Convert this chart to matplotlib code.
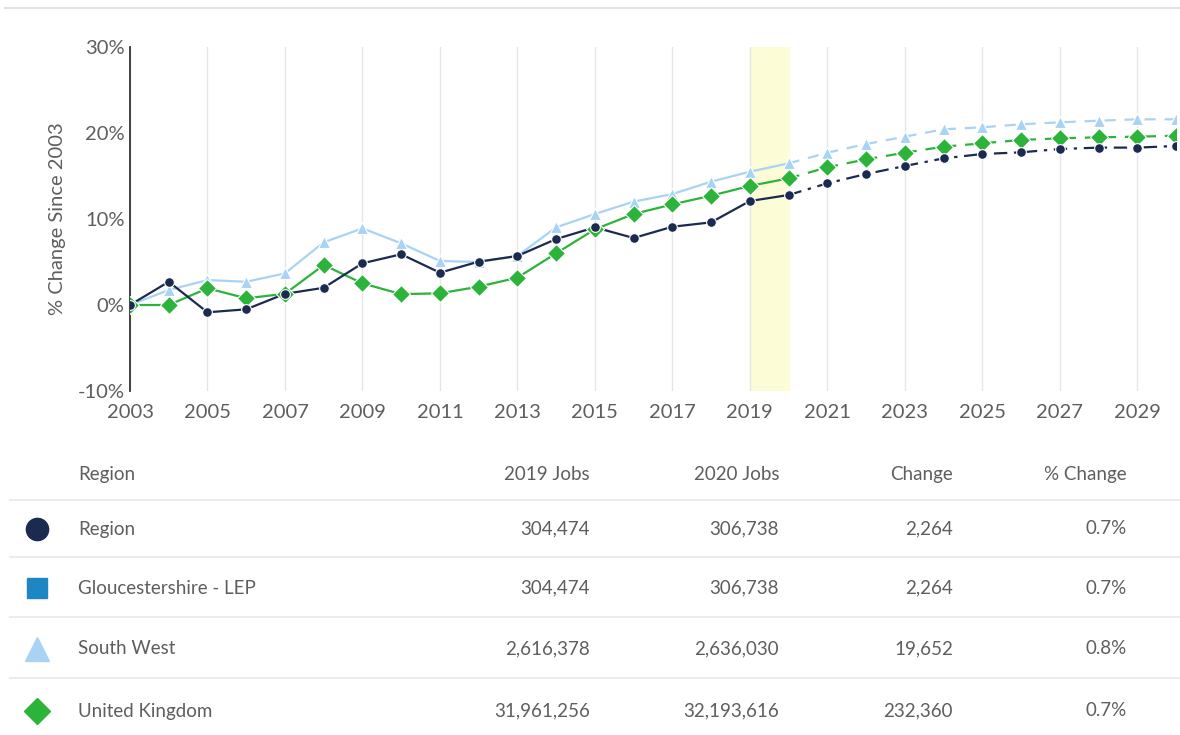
import numpy as np
import matplotlib.pyplot as plt

plt.rcParams['font.family'] = ['Lato', 'DejaVu Sans']

years = np.arange(2003, 2031)
region = [0, 2.7, -0.85, -0.5, 1.3, 2.0, 4.85, 5.9, 3.76, 5.04, 5.7, 7.67, 9.03, 7.79,
          9.1, 9.61, 12.09, 12.79, 14.15, 15.23, 16.16, 17.05, 17.56, 17.75, 18.14, 18.3,
          18.3, 18.49]
south_west = [0, 1.74, 2.9, 2.7, 3.68, 7.29, 8.91, 7.17, 5.12, 5.0, 5.7, 9.03, 10.58, 12.02,
              12.9, 14.34, 15.5, 16.47, 17.71, 18.72, 19.57, 20.43, 20.66, 21.01, 21.24,
              21.43, 21.59, 21.59]
uk = [0, 0.0, 1.94, 0.78, 1.3, 4.65, 2.52, 1.26, 1.36, 2.13, 3.18, 6.01, 8.8, 10.58, 11.7,
      12.71, 13.84, 14.73, 16.01, 16.94, 17.71, 18.41, 18.8, 19.19, 19.38, 19.5, 19.57, 19.69]
last_actual = 2020
highlight = (2019, 2020)

table_cols = ['Region', '2019 Jobs', '2020 Jobs', 'Change', '% Change']
table_names = ['Region', 'Gloucestershire - LEP', 'South West', 'United Kingdom']
jobs_2019 = ['304,474', '304,474', '2,616,378', '31,961,256']
jobs_2020 = ['306,738', '306,738', '2,636,030', '32,193,616']
change = ['2,264', '2,264', '19,652', '232,360']
pct_change = ['0.7%', '0.7%', '0.8%', '0.7%']

navy = '#1b2a4f'
lep_blue = '#1f86c6'
light_blue = '#a9d3f5'
green = '#2cb43a'
txt = '#5e5e5e'

fig = plt.figure(figsize=(11.8, 7.35), dpi=100)

# full-figure axes in pixel coords for the table and border lines
tab = fig.add_axes([0, 0, 1, 1])
tab.set_xlim(0, 1180)
tab.set_ylim(735, 0)
tab.axis('off')

ax = fig.add_axes([130 / 1180, 344 / 735, 1046 / 1180, 344 / 735])
ax.patch.set_alpha(0)

ax.axvspan(*highlight, color='#fcfcd6', zorder=0)

series = [
    (south_west, light_blue, '^', 8.5, (0, (5, 4))),
    (uk, green, 'D', 9, (0, (5, 4))),
    (region, navy, 'o', 7, (0, (6, 3, 1.5, 3))),
]
hist = years <= last_actual
fcst = years >= last_actual
for vals, col, mk, ms, ls in series:
    v = np.array(vals)
    ax.plot(years[hist], v[hist], color=col, lw=1.6, zorder=3)
    ax.plot(years[fcst], v[fcst], color=col, lw=1.6, linestyle=ls, zorder=3)
    ax.plot(years, v, linestyle='none', marker=mk, ms=ms, color=col,
            markeredgecolor='white', markeredgewidth=0.8, zorder=4)

ax.set_xlim(2003, 2030)
ax.set_ylim(-10, 30)
ax.set_xticks(np.arange(2003, 2030, 2))
ax.set_yticks([-10, 0, 10, 20, 30])
ax.set_yticklabels(['-10%', '0%', '10%', '20%', '30%'])
ax.grid(axis='x', color='#e6e6e6', lw=1)
ax.set_axisbelow(True)
for s in ['top', 'right', 'bottom']:
    ax.spines[s].set_visible(False)
ax.spines['left'].set_color('#333333')
ax.spines['left'].set_linewidth(1.3)
ax.tick_params(length=0, labelsize=14.5, colors=txt)
ax.tick_params(axis='x', pad=9)
ax.tick_params(axis='y', pad=4)
ax.set_ylabel('% Change Since 2003', fontsize=14.5, color=txt, labelpad=8)

# top border line
tab.plot([5, 1180], [8, 8], color='#e3e3e3', lw=1.5)

header_y = 474
row_y = [529, 588, 649, 711]
sep_y = [500, 557, 617, 678]
col_right = [590, 779, 953, 1127]
fs = 13.5

tab.text(78, header_y, table_cols[0], fontsize=fs, color=txt, va='center', ha='left')
for x, c in zip(col_right, table_cols[1:]):
    tab.text(x, header_y, c, fontsize=fs, color=txt, va='center', ha='right')
for y in sep_y:
    tab.plot([10, 1180], [y, y], color='#ececec', lw=1.5)

icons = [('o', navy, 16), ('s', lep_blue, 15), ('^', light_blue, 17), ('D', green, 13)]
for i, y in enumerate(row_y):
    mk, col, ms = icons[i]
    tab.plot(37, y, marker=mk, color=col, ms=ms, linestyle='none')
    tab.text(78, y, table_names[i], fontsize=fs, color=txt, va='center', ha='left')
    vals = [jobs_2019[i], jobs_2020[i], change[i], pct_change[i]]
    for x, v in zip(col_right, vals):
        tab.text(x, y, v, fontsize=fs, color=txt, va='center', ha='right')

fig.savefig('out.png', dpi=100, facecolor='white')
